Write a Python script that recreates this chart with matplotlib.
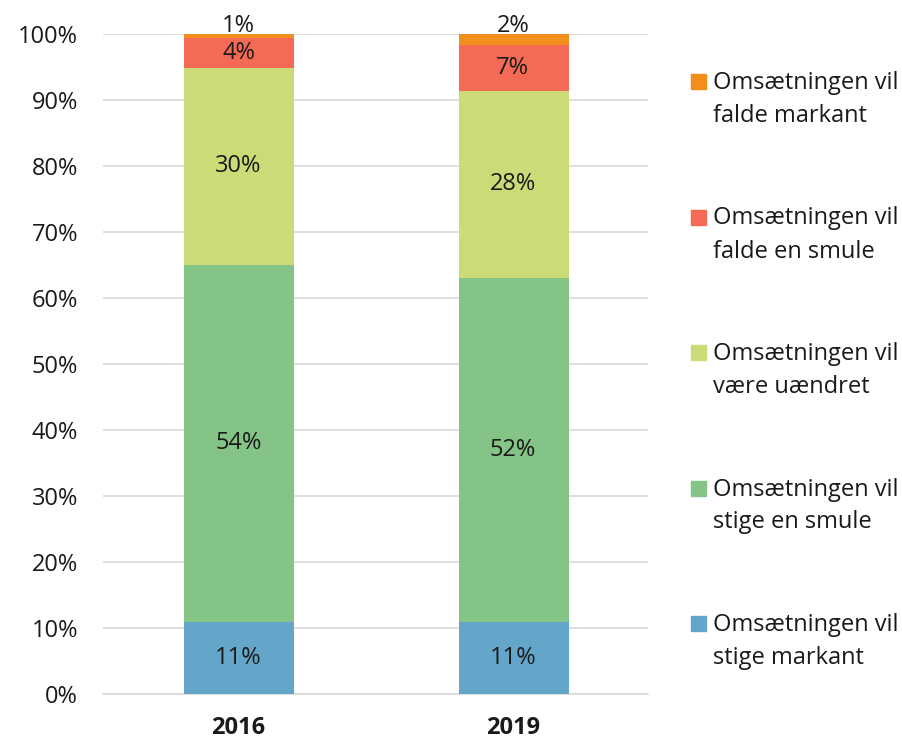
import matplotlib as mpl
mpl.use("Agg")
import matplotlib.pyplot as plt
from matplotlib.patches import Rectangle
import numpy as np

YEARS = ["2016", "2019"]
SERIES = [
    "Omsætningen vil\nstige markant",
    "Omsætningen vil\nstige en smule",
    "Omsætningen vil\nvære uændret",
    "Omsætningen vil\nfalde en smule",
    "Omsætningen vil\nfalde markant",
]
# share in percent per year, bottom to top
STIGE_MARKANT = [10.9, 10.9]
STIGE_SMULE = [54.1, 52.1]
UAENDRET = [29.9, 28.4]
FALDE_SMULE = [4.5, 6.9]
FALDE_MARKANT = [0.6, 1.7]
LABELS = [
    ["11%", "11%"],
    ["54%", "52%"],
    ["30%", "28%"],
    ["4%", "7%"],
    ["1%", "2%"],
]
COLORS = ["#63A6C9", "#84C486", "#CCDB77", "#F46A55", "#F28E1B"]
TXT = "#1a1a1a"

mpl.rcParams.update({"font.family": ["Open Sans", "DejaVu Sans"], "font.size": 17})

values = [STIGE_MARKANT, STIGE_SMULE, UAENDRET, FALDE_SMULE, FALDE_MARKANT]
x = np.arange(len(YEARS))

fig = plt.figure(figsize=(9.03, 7.4), dpi=100)
ax = fig.add_axes([0.114, 0.0622, 0.604, 0.892])

bottom = np.zeros(len(YEARS))
for k, (vals, col) in enumerate(zip(values, COLORS)):
    vals = np.array(vals)
    ax.bar(x + 0.003, vals, 0.40, bottom=bottom, color=col, zorder=3)
    for i in range(len(YEARS)):
        if k == len(values) - 1:
            y = 101.2
        else:
            y = bottom[i] + vals[i] / 2
        ax.text(x[i], y, LABELS[k][i], ha="center", va="center", color=TXT, zorder=4)
    bottom += vals

ax.set_xlim(-0.494, 1.494)
ax.set_ylim(0, 100)
ax.set_yticks(np.arange(0, 101, 10))
ax.set_yticklabels([f"{t}%" for t in range(0, 101, 10)])
ax.set_xticks(x)
ax.set_xticklabels(YEARS, fontweight="bold")
ax.yaxis.grid(True, color="#d9d9d9", lw=1.2, zorder=0)
ax.tick_params(length=0, colors=TXT)
ax.tick_params(axis="y", pad=18)
ax.tick_params(axis="x", pad=16)
for s in ["left", "right", "top"]:
    ax.spines[s].set_visible(False)
ax.spines["bottom"].set_color("#d9d9d9")
ax.spines["bottom"].set_linewidth(1.2)

# legend, top entry = last series
W, H = 903, 740
for j, k in enumerate(range(len(SERIES) - 1, -1, -1)):
    base = 89 + 135.5 * j
    fig.add_artist(Rectangle((691 / W, 1 - base / H), 15 / W, 15 / H,
                             color=COLORS[k], transform=fig.transFigure))
    for n, line in enumerate(SERIES[k].split("\n")):
        fig.text(713 / W, 1 - (base + 33 * n) / H, line, ha="left", va="baseline", color=TXT)

fig.savefig("out.png", dpi=100)
